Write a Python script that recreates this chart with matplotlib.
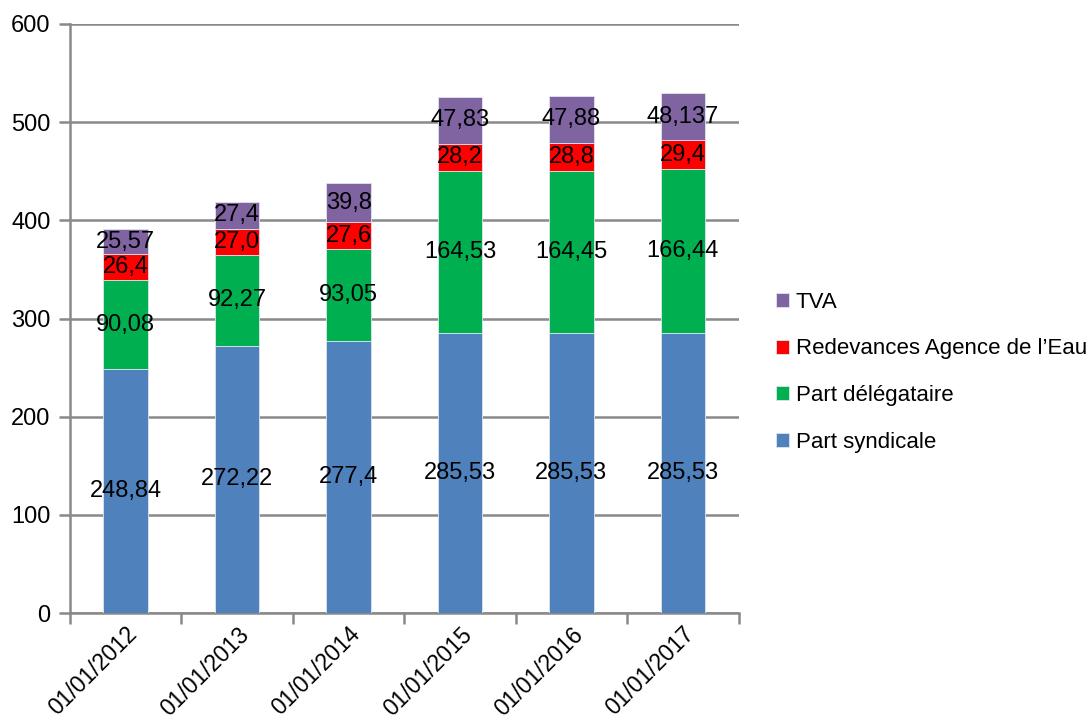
import matplotlib

matplotlib.use("Agg")
import matplotlib.pyplot as plt
import numpy as np

dates = ["01/01/2012", "01/01/2013", "01/01/2014", "01/01/2015", "01/01/2016", "01/01/2017"]
part_syndicale = [248.84, 272.22, 277.4, 285.53, 285.53, 285.53]
part_delegataire = [90.08, 92.27, 93.05, 164.53, 164.45, 166.44]
redevances = [26.4, 27.0, 27.6, 28.2, 28.8, 29.4]
tva = [25.57, 27.4, 39.8, 47.83, 47.88, 48.137]

series = [
    ("Part syndicale", part_syndicale, "#4F81BD"),
    ("Part délégataire", part_delegataire, "#00B050"),
    ("Redevances Agence de l\u2019Eau", redevances, "#FF0000"),
    ("TVA", tva, "#8064A2"),
]

plt.rcParams["font.family"] = ["Liberation Sans", "DejaVu Sans"]
GRID = "#898989"
FS = 16

fig = plt.figure(figsize=(10.89, 7.25), dpi=100)
ax = fig.add_axes([70 / 1089, 1 - 613 / 725, 668.5 / 1089, 589 / 725])

x = np.arange(len(dates))
bottom = np.zeros(len(dates))
handles = []
for name, values, color in series:
    vals = np.array(values)
    bars = ax.bar(x, vals, width=0.4, bottom=bottom, color=color,
                  edgecolor="#dfe6f0", linewidth=0.6, label=name, zorder=3)
    handles.append(bars)
    # value labels centred in each segment, French decimal comma
    for xi, b, v in zip(x, bottom, values):
        ax.text(xi, b + v / 2, str(v).replace(".", ","), ha="center", va="center",
                fontsize=FS + 1, color="#000000", zorder=4)
    bottom += vals

ax.set_xlim(-0.5, len(dates) - 0.5)
ax.set_ylim(0, 600)
ax.set_yticks(range(0, 601, 100))
ax.yaxis.grid(True, color=GRID, linewidth=1.8, zorder=0)
ax.set_axisbelow(True)

ax.set_xticks(x)
ax.set_xticklabels(dates, rotation=45, ha="right", va="top", rotation_mode="anchor", fontsize=FS + 0.5)
ax.set_xticks(np.arange(-0.5, len(dates), 1.0), minor=True)
ax.tick_params(axis="x", which="major", length=0, pad=7)
ax.tick_params(axis="x", which="minor", length=8, width=1.8, color=GRID)
ax.tick_params(axis="y", length=8, width=1.8, color=GRID, labelsize=FS + 1, pad=6)

for side in ["top", "right"]:
    ax.spines[side].set_visible(False)
for side in ["left", "bottom"]:
    ax.spines[side].set_color(GRID)
    ax.spines[side].set_linewidth(1.8)

fig.legend(handles[::-1], [s[0] for s in series[::-1]],
           loc="upper left", bbox_to_anchor=(767 / 1089, 1 - 283 / 725),
           frameon=False, fontsize=FS, handlelength=0.6, handleheight=0.6,
           handletextpad=0.3, labelspacing=1.15, borderaxespad=0)

fig.savefig("out.png", dpi=100, facecolor="white")
